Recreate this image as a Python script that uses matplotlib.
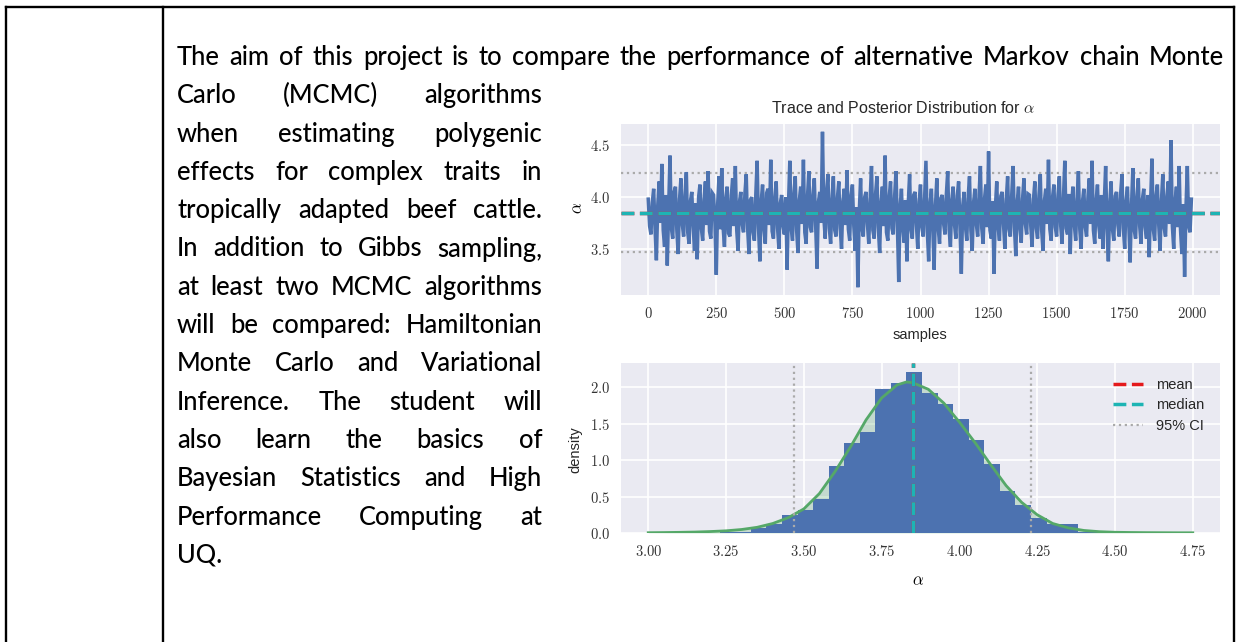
import numpy as np
import matplotlib
matplotlib.use("Agg")
import matplotlib.pyplot as plt
from matplotlib.lines import Line2D

plt.rcParams['mathtext.fontset'] = 'cm'

# ---- document text (left of the figure, justified) ----
doc_lines = [
    "The aim of this project is to compare the performance of alternative Markov chain Monte",
    "Carlo (MCMC) algorithms",
    "when estimating polygenic",
    "effects for complex traits in",
    "tropically adapted beef cattle.",
    "In addition to Gibbs sampling,",
    "at least two MCMC algorithms",
    "will be compared: Hamiltonian",
    "Monte Carlo and Variational",
    "Inference. The student will",
    "also learn the basics of",
    "Bayesian Statistics and High",
    "Performance Computing at",
    "UQ.",
]

# ---- trace of alpha (one value read every 5 samples) ----
trace_step = 5
trace_vals = [
    3.98, 3.72, 3.64, 3.95, 4.08, 3.70, 3.39, 3.92, 4.15, 3.75, 4.32, 3.68, 3.52, 4.02, 3.34, 3.90, 4.40, 3.70, 3.60, 4.05,
    4.10, 3.68, 3.45, 3.98, 4.18, 3.74, 3.62, 4.02, 4.24, 3.66, 3.55, 3.96, 4.05, 3.72, 3.48, 3.94, 3.40, 4.00, 4.12, 3.70,
    3.58, 3.97, 4.15, 3.73, 4.25, 3.67, 3.60, 4.04, 4.02, 3.76, 3.25, 3.93, 4.20, 3.69, 4.28, 3.71, 3.52, 3.99, 4.10, 3.65,
    3.62, 4.01, 4.18, 3.72, 4.30, 3.68, 3.48, 3.95, 4.05, 3.74, 3.66, 4.03, 4.22, 3.70, 3.45, 3.97, 4.00, 3.66, 3.58, 4.02,
    4.35, 3.71, 3.38, 3.96, 4.12, 3.69, 3.55, 4.04, 4.08, 3.73, 4.36, 3.67, 3.60, 3.99, 4.15, 3.70, 3.50, 3.94, 4.02, 3.72,
    3.64, 4.00, 3.30, 3.92, 4.35, 3.70, 3.58, 4.03, 4.20, 3.68, 3.46, 3.97, 4.10, 3.74, 4.36, 3.66, 3.55, 4.01, 4.25, 3.71,
    3.66, 4.02, 4.18, 3.72, 3.31, 3.95, 4.05, 3.75, 4.63, 3.80, 3.60, 4.05, 4.22, 3.70, 3.55, 3.98, 4.20, 3.68, 3.62, 4.00,
    4.15, 3.70, 3.50, 3.96, 4.08, 3.73, 4.26, 3.69, 3.58, 4.02, 4.12, 3.72, 3.48, 3.90, 3.13, 3.85, 4.18, 3.70, 3.62, 4.00,
    4.05, 3.74, 3.55, 3.98, 4.30, 3.68, 3.60, 4.03, 4.20, 3.71, 3.46, 3.95, 4.10, 3.72, 4.40, 3.66, 3.58, 4.00, 4.15, 3.70,
    3.64, 4.01, 4.25, 3.74, 3.18, 3.90, 4.08, 3.70, 3.56, 3.97, 3.38, 3.94, 4.22, 3.69, 3.60, 4.02, 4.05, 3.73, 3.50, 3.96,
    4.12, 3.71, 3.62, 4.00, 4.35, 3.67, 3.38, 3.93, 4.08, 3.72, 3.30, 3.92, 4.18, 3.70, 3.55, 3.99, 4.02, 3.74, 3.64, 4.03,
    4.25, 3.69, 3.52, 3.97, 4.10, 3.73, 3.60, 4.01, 4.15, 3.70, 3.26, 3.91, 4.05, 3.72, 3.58, 4.00, 4.20, 3.68, 3.48, 3.95,
    4.08, 3.74, 3.62, 4.02, 4.30, 3.70, 3.55, 3.98, 4.12, 3.71, 4.44, 3.68, 3.60, 3.96, 3.26, 3.90, 4.15, 3.72, 3.58, 4.01,
    4.05, 3.73, 3.50, 3.97, 4.20, 3.69, 3.62, 4.02, 4.30, 3.71, 3.43, 3.95, 4.10, 3.70, 3.56, 3.99, 4.18, 3.74, 3.64, 4.03,
    4.02, 3.72, 3.52, 3.98, 4.15, 3.70, 3.60, 4.01, 4.22, 3.68, 3.48, 3.96, 4.08, 3.74, 4.36, 3.69, 3.58, 4.00, 4.12, 3.71,
    3.62, 4.02, 4.20, 3.72, 3.55, 3.99, 4.35, 3.70, 3.64, 4.03, 3.45, 3.94, 4.10, 3.73, 3.58, 3.98, 4.25, 3.69, 3.50, 3.96,
    4.08, 3.71, 3.62, 4.00, 4.18, 3.74, 4.35, 3.68, 3.55, 3.97, 4.12, 3.72, 3.60, 4.02, 3.50, 3.95, 4.30, 3.70, 3.38, 3.93,
    4.15, 3.69, 3.58, 4.01, 4.05, 3.73, 3.62, 4.03, 4.22, 3.70, 3.50, 3.96, 4.10, 3.72, 3.37, 3.92, 4.28, 3.68, 3.60, 4.00,
    4.18, 3.72, 3.55, 3.98, 4.08, 3.71, 3.60, 4.02, 3.42, 3.94, 4.37, 3.69, 3.58, 4.01, 4.12, 3.73, 3.48, 3.97, 4.22, 3.70,
    3.62, 4.01, 4.15, 3.74, 4.55, 3.72, 3.50, 3.96, 4.10, 3.71, 4.30, 3.68, 3.45, 3.93, 3.23, 3.90, 4.30, 3.72, 3.66, 3.98,
]

alpha_mean = 3.85
alpha_median = 3.85
ci_low, ci_high = 3.47, 4.23

# ---- posterior histogram (30 bins between min and max) ----
hist_min, hist_max = 3.13, 4.63
hist_heights = [
    0.01, 0.00, 0.01, 0.02, 0.07, 0.13, 0.25, 0.31, 0.47, 0.92,
    1.23, 1.38, 1.97, 2.06, 2.21, 1.92, 1.77, 1.56, 1.28, 0.95,
    0.58, 0.38, 0.20, 0.12, 0.12, 0.02, 0.01, 0.01, 0.00, 0.01,
]

# ---- kernel density curve ----
kde_x = [3.00, 3.05, 3.10, 3.15, 3.20, 3.25, 3.30, 3.35, 3.40, 3.45,
         3.50, 3.55, 3.60, 3.65, 3.70, 3.75, 3.80, 3.83, 3.85, 3.90,
         3.95, 4.00, 4.05, 4.10, 4.15, 4.20, 4.25, 4.30, 4.35, 4.40,
         4.45, 4.50, 4.55, 4.60, 4.65, 4.70, 4.75]
kde_y = [0.004, 0.006, 0.009, 0.013, 0.020, 0.030, 0.048, 0.078, 0.13, 0.21,
         0.33, 0.54, 0.84, 1.18, 1.55, 1.85, 2.03, 2.07, 2.06, 1.97,
         1.78, 1.52, 1.24, 0.94, 0.65, 0.42, 0.25, 0.13, 0.07, 0.035,
         0.018, 0.010, 0.007, 0.005, 0.004, 0.003, 0.003]

W, H = 1240, 642
fig = plt.figure(figsize=(W / 100, H / 100), dpi=100)
fig.patch.set_facecolor('white')


def fx(px):
    return px / W


def fy(py):
    return 1 - py / H


# table borders
for (x0, y0, x1, y1) in [(6, 7, 1234, 7), (6, 7, 6, 642), (163, 7, 163, 642), (1234, 7, 1234, 642)]:
    fig.add_artist(Line2D([fx(x0), fx(x1)], [fy(y0), fy(y1)], color='black', lw=1.7))

# ---- justified paragraph ----
renderer = fig.canvas.get_renderer()
doc_font = 'Lato'
doc_weight = 500


def text_w(s, size):
    t = fig.text(0, 0, s, fontsize=size, family=doc_font, fontweight=doc_weight)
    w = t.get_window_extent(renderer).width
    t.remove()
    return w


left_x = 177
right_first = 1224
right_col = 542
baseline0 = 65
line_gap = 38.3

base = 10
ratios = []
for i, ln in enumerate(doc_lines[:-1]):
    avail = (right_first if i == 0 else right_col) - left_x
    ratios.append(avail / text_w(ln, base))
fs = min(18.4, min(ratios) * base * 0.99)

for i, ln in enumerate(doc_lines):
    y = fy(baseline0 + i * line_gap)
    words = ln.split()
    if i == len(doc_lines) - 1 or len(words) == 1:
        fig.text(fx(left_x), y, ln, fontsize=fs, family=doc_font, fontweight=doc_weight,
                 va='baseline', color='black')
        continue
    right = right_first if i == 0 else right_col
    widths = [text_w(w, fs) for w in words]
    gap = (right - left_x - sum(widths)) / (len(words) - 1)
    xpos = left_x
    for w, ww in zip(words, widths):
        fig.text(fx(xpos), y, w, fontsize=fs, family=doc_font, fontweight=doc_weight,
                 va='baseline', color='black')
        xpos += ww + gap

# ---- chart styling ----
bg = '#EAEAF2'
blue = '#4C72B0'
green = '#55A868'
red = '#E41A1C'
cyan = '#1DB4B4'
grey = '#AAAAAA'
sans = 'Liberation Sans'


def style(ax):
    ax.set_facecolor(bg)
    for s in ax.spines.values():
        s.set_visible(False)
    ax.grid(color='white', lw=1.2)
    ax.set_axisbelow(True)
    ax.tick_params(length=0, pad=8, labelsize=10.5, colors='#333333')


# trace plot
ax1 = fig.add_axes([fx(621), fy(295), (1220 - 621) / W, (295 - 124) / H])
style(ax1)
samples = np.arange(len(trace_vals)) * trace_step
ax1.plot(samples, trace_vals, color=blue, lw=2.5, zorder=2, solid_joinstyle='miter')
ax1.axhline(alpha_mean, color=red, ls='--', lw=2.5, zorder=3)
ax1.axhline(alpha_median, color=cyan, ls='--', lw=2.5, zorder=3)
ax1.axhline(ci_low, color=grey, ls=':', lw=1.6, zorder=1)
ax1.axhline(ci_high, color=grey, ls=':', lw=1.6, zorder=1)
ax1.set_xlim(-100, 2100)
ax1.set_ylim(3.055, 4.705)
xt1 = [0, 250, 500, 750, 1000, 1250, 1500, 1750, 2000]
ax1.set_xticks(xt1)
ax1.set_xticklabels([f'${v}$' for v in xt1])
yt1 = [3.5, 4.0, 4.5]
ax1.set_yticks(yt1)
ax1.set_yticklabels([f'${v:.1f}$' for v in yt1])

fig.text(fx(903), fy(108), r'Trace and Posterior Distribution for $\alpha$',
         ha='center', va='center', fontsize=11.5, family=sans, color='#262626')
fig.text(fx(577), fy(208), r'$\alpha$', rotation=90, ha='center', va='center', fontsize=12)
fig.text(fx(920), fy(335), 'samples', ha='center', va='center', fontsize=10.5, family=sans, color='#262626')

# posterior histogram
ax2 = fig.add_axes([fx(621), fy(533), (1220 - 621) / W, (533 - 363) / H])
style(ax2)
edges = np.linspace(hist_min, hist_max, len(hist_heights) + 1)
ax2.fill_between(kde_x, kde_y, color=green, alpha=0.25, lw=0, zorder=1)
ax2.bar(edges[:-1], hist_heights, width=np.diff(edges), align='edge',
        color=blue, lw=0, zorder=2)
ax2.plot(kde_x, kde_y, color=green, lw=2, zorder=3)
ax2.axvline(alpha_mean, color=red, ls='--', lw=2.5, zorder=4, label='mean')
ax2.axvline(alpha_median, color=cyan, ls='--', lw=2.5, zorder=4, label='median')
ax2.axvline(ci_low, color=grey, ls=':', lw=1.6, zorder=4, label='95% CI')
ax2.axvline(ci_high, color=grey, ls=':', lw=1.6, zorder=4)
ax2.set_xlim(2.9125, 4.8375)
ax2.set_ylim(0, 2.33)
xt2 = [3.00, 3.25, 3.50, 3.75, 4.00, 4.25, 4.50, 4.75]
ax2.set_xticks(xt2)
ax2.set_xticklabels([f'${v:.2f}$' for v in xt2])
yt2 = [0.0, 0.5, 1.0, 1.5, 2.0]
ax2.set_yticks(yt2)
ax2.set_yticklabels([f'${v:.1f}$' for v in yt2])
leg = ax2.legend(loc='upper right', bbox_to_anchor=(0.995, 0.99), frameon=False,
                 prop={'family': sans, 'size': 10.5}, handlelength=2.0,
                 labelspacing=0.45, handletextpad=0.9)
for t in leg.get_texts():
    t.set_color('#262626')

fig.text(fx(575), fy(450), 'density', rotation=90, ha='center', va='center',
         fontsize=10.5, family=sans, color='#262626')
fig.text(fx(918), fy(580), r'$\alpha$', ha='center', va='center', fontsize=12)

fig.savefig('out.png', dpi=100)
